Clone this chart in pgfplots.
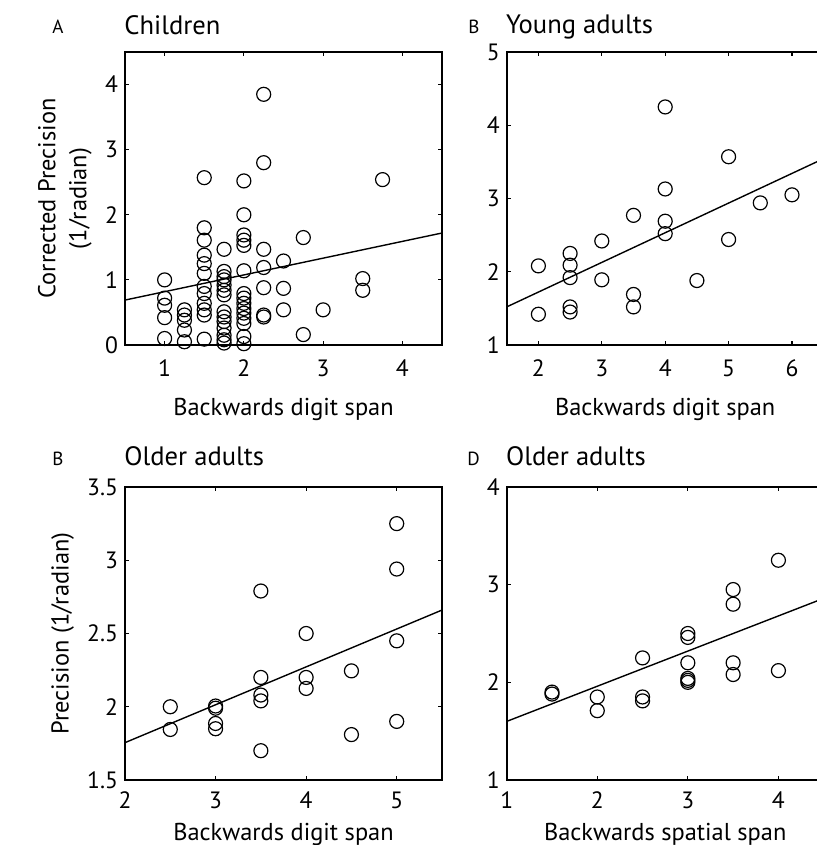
\documentclass[border=0pt]{standalone}
\usepackage{fontspec}
\setmainfont{PT Sans}
\usepackage{pgfplots}
\pgfplotsset{compat=1.18}
\pgfplotsset{
  panel/.style={
    width=158.5pt, height=146.5pt, scale only axis,
    axis line style={line width=0.9pt},
    tick align=inside, major tick length=2.2pt,
    tick style={line width=0.6pt, black},
    /pgf/number format/assume math mode=true,
    tick label style={font=\fontsize{11.8}{13}\selectfont},
    label style={font=\fontsize{12.2}{14}\selectfont},
    title style={at={(axis description cs:0,1)}, anchor=base west, inner xsep=0pt, xshift=-0.5pt, font=\fontsize{13.3}{15}\selectfont},
    xlabel style={at={(axis description cs:0.5,0)}, anchor=base},
    ylabel style={anchor=center, align=center},
  },
  toprow/.style={
    xticklabel style={anchor=base, yshift=-15.8pt},
    xlabel style={yshift=-35.5pt},
    title style={yshift=3pt},
  },
  botrow/.style={
    xticklabel style={anchor=base, yshift=-14pt},
    xlabel style={yshift=-30pt},
    title style={yshift=4.8pt},
  },
  pts/.style={only marks, mark=o, mark size=3.5pt, mark options={line width=0.6pt, black}},
  fit/.style={black, line width=0.7pt, no marks},
}
\begin{document}
\begin{tikzpicture}
% Panel A
\begin{axis}[panel, toprow, at={(0pt,0pt)},
  xmin=0.5, xmax=4.5, ymin=0, ymax=4.5,
  xtick={1,2,3,4}, ytick={0,1,2,3,4},
  title={Children}, xlabel={Backwards digit span},
  ylabel={Corrected Precision\\(1/radian)},
  ylabel style={at={(axis description cs:-0.19,0.5)}, font=\fontsize{12.2}{15.5}\selectfont}]
\addplot[pts] coordinates {
(1,1.0) (1,0.72) (1,0.61) (1,0.42) (1,0.10)
(1.25,0.54) (1.25,0.46) (1.25,0.38) (1.25,0.23) (1.25,0.05)
(1.5,2.57) (1.5,1.80) (1.5,1.61) (1.5,1.38) (1.5,1.25) (1.5,1.10) (1.5,0.90) (1.5,0.79) (1.5,0.64) (1.5,0.54) (1.5,0.46) (1.5,0.09)
(1.75,1.47) (1.75,1.13) (1.75,1.05) (1.75,1.0) (1.75,0.92) (1.75,0.84) (1.75,0.77) (1.75,0.51) (1.75,0.43) (1.75,0.36) (1.75,0.26) (1.75,0.15) (1.75,0.08) (1.75,0.03)
(2,2.52) (2,2.0) (2,1.69) (2,1.61) (2,1.53) (2,1.14) (2,0.79) (2,0.72) (2,0.64) (2,0.56) (2,0.49) (2,0.41) (2,0.33) (2,0.13) (2,0.02)
(2.25,3.85) (2.25,2.80) (2.25,1.47) (2.25,1.19) (2.25,0.88) (2.25,0.46) (2.25,0.43)
(2.5,1.29) (2.5,0.87) (2.5,0.54)
(2.75,1.65) (2.75,0.16)
(3,0.54)
(3.5,1.02) (3.5,0.84)
(3.75,2.54)
};
\addplot[fit] coordinates {(0.5,0.69) (4.5,1.72)};
\end{axis}
% Panel B
\begin{axis}[panel, toprow, at={(190.85pt,0pt)},
  xmin=1.5, xmax=6.5, ymin=1, ymax=5,
  xtick={2,3,4,5,6}, ytick={1,2,3,4,5},
  title={Young adults}, xlabel={Backwards digit span}]
\addplot[pts] coordinates {
(2,2.08) (2,1.42)
(2.5,2.25) (2.5,2.09) (2.5,1.92) (2.5,1.52) (2.5,1.45)
(3,2.42) (3,1.89)
(3.5,2.77) (3.5,1.69) (3.5,1.52)
(4,4.25) (4,3.13) (4,2.69) (4,2.52)
(4.5,1.88)
(5,3.57) (5,2.44)
(5.5,2.94)
(6,3.05)
};
\addplot[fit] coordinates {(1.5,1.52) (6.5,3.545)};
\end{axis}
% Panel C
\begin{axis}[panel, botrow, at={(0pt,-217.5pt)},
  xmin=2, xmax=5.5, ymin=1.5, ymax=3.5,
  xtick={2,3,4,5}, ytick={1.5,2,2.5,3,3.5},
  title={Older adults}, xlabel={Backwards digit span},
  ylabel={Precision (1/radian)},
  ylabel style={at={(axis description cs:-0.197,0.5)}}]
\addplot[pts] coordinates {
(2.5,2.0) (2.5,1.845)
(3,2.005) (3,1.99) (3,1.886) (3,1.85)
(3.5,2.79) (3.5,2.20) (3.5,2.08) (3.5,2.04) (3.5,1.70)
(4,2.5) (4,2.20) (4,2.125)
(4.5,2.245) (4.5,1.81)
(5,3.25) (5,2.94) (5,2.45) (5,1.90)
};
\addplot[fit] coordinates {(2,1.755) (5.5,2.66)};
\end{axis}
% Panel D
\begin{axis}[panel, botrow, at={(190.85pt,-217.5pt)},
  xmin=1, xmax=4.5, ymin=1, ymax=4,
  xtick={1,2,3,4}, ytick={1,2,3,4},
  title={Older adults}, xlabel={Backwards spatial span}]
\addplot[pts] coordinates {
(1.5,1.90) (1.5,1.88)
(2,1.85) (2,1.71)
(2.5,2.25) (2.5,1.85) (2.5,1.81)
(3,2.50) (3,2.46) (3,2.20) (3,2.04) (3,2.02) (3,2.0)
(3.5,2.95) (3.5,2.80) (3.5,2.20) (3.5,2.08)
(4,3.25) (4,2.12)
};
\addplot[fit] coordinates {(1,1.60) (4.5,2.86)};
\end{axis}
% panel letters
\node[anchor=base west, font=\fontsize{9.5}{11}\selectfont, inner sep=0pt] at (-36.5pt,155.5pt) {A};
\node[anchor=base west, font=\fontsize{9.5}{11}\selectfont, inner sep=0pt] at (171.5pt,155.5pt) {B};
\node[anchor=base west, font=\fontsize{9.5}{11}\selectfont, inner sep=0pt] at (-36.5pt,-60pt) {B};
\node[anchor=base west, font=\fontsize{9.5}{11}\selectfont, inner sep=0pt] at (171pt,-60pt) {D};
\pgfresetboundingbox
\path[use as bounding box] (-62.5pt,-250pt) rectangle (346pt,172.5pt);
\end{tikzpicture}
\end{document}
